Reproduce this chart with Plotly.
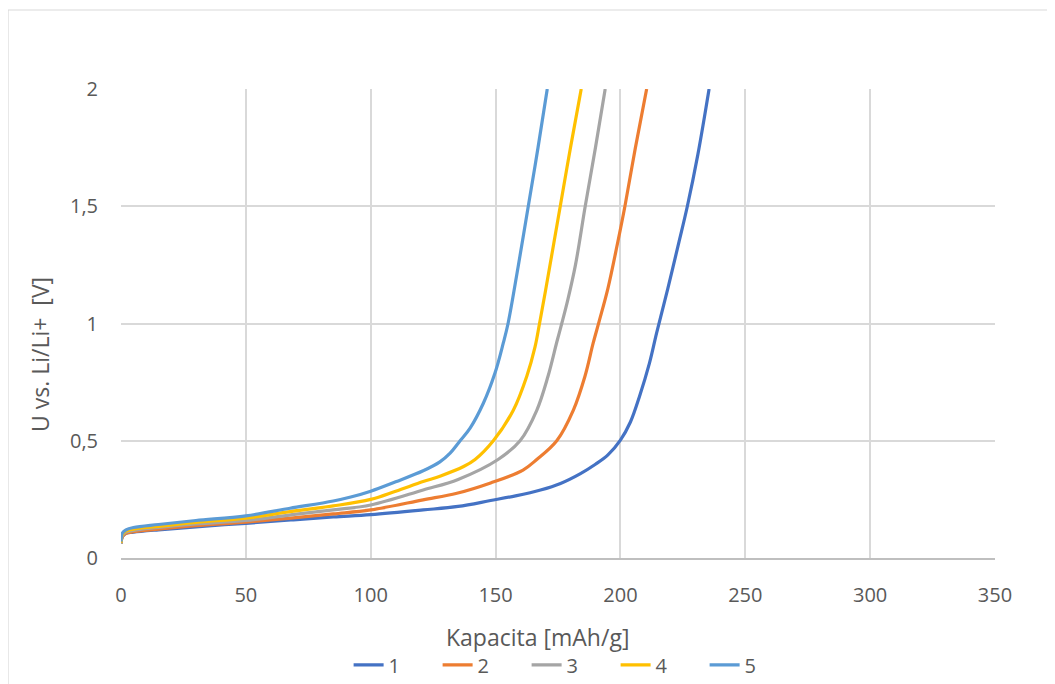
import plotly.graph_objects as go

# Capacity [mAh/g] and voltage [V] per cycle
cap_1 = [0, 0.5, 2, 5, 15, 30, 50, 68, 85, 100, 121, 135, 148, 158, 168, 176, 184, 190, 195, 200, 204, 207.6, 211.6, 214.5, 219, 223.5, 226.8, 231, 235.5]
u_1 = [0.06, 0.09, 0.105, 0.11, 0.12, 0.133, 0.148, 0.162, 0.175, 0.185, 0.205, 0.22, 0.245, 0.265, 0.29, 0.318, 0.36, 0.40, 0.44, 0.503, 0.58, 0.688, 0.83, 0.96, 1.15, 1.35, 1.5, 1.72, 2.0]

cap_2 = [0, 0.5, 2, 5, 15, 30, 50, 68, 85, 100, 121, 134.5, 148, 161, 166.5, 174.5, 181.2, 185.8, 189.1, 191.5, 195, 198.8, 201.8, 206, 210.5]
u_2 = [0.06, 0.09, 0.105, 0.112, 0.123, 0.138, 0.153, 0.17, 0.188, 0.205, 0.248, 0.276, 0.32, 0.375, 0.42, 0.5, 0.632, 0.775, 0.917, 1.01, 1.15, 1.34, 1.5, 1.75, 2.0]

cap_3 = [0, 0.5, 2, 5, 15, 30, 50, 68, 85, 100, 121, 135, 151, 159.8, 166.5, 171, 174.5, 176.5, 178.9, 182, 185.9, 190, 193.9]
u_3 = [0.06, 0.095, 0.11, 0.118, 0.13, 0.145, 0.16, 0.184, 0.205, 0.226, 0.29, 0.335, 0.42, 0.5, 0.63, 0.775, 0.92, 1.0, 1.1, 1.25, 1.5, 1.75, 2.0]

cap_4 = [0, 0.5, 2, 5, 15, 30, 50, 67.7, 85, 100, 110, 121, 128, 137.2, 141.8, 149.1, 157.1, 162.5, 165.8, 167.6, 170, 175.9, 180, 184.3]
u_4 = [0.065, 0.10, 0.115, 0.123, 0.135, 0.152, 0.17, 0.198, 0.222, 0.25, 0.285, 0.326, 0.35, 0.39, 0.42, 0.5, 0.63, 0.775, 0.9, 1.0, 1.14, 1.5, 1.75, 2.0]

cap_5 = [0, 0.5, 2, 5, 15, 30, 50, 67.7, 85, 92, 100, 110, 121, 127.7, 131.8, 135.8, 139.8, 145.1, 149.8, 153.1, 155, 159, 163.1, 167, 170.7]
u_5 = [0.07, 0.105, 0.12, 0.13, 0.143, 0.16, 0.18, 0.212, 0.243, 0.26, 0.285, 0.325, 0.372, 0.41, 0.447, 0.5, 0.554, 0.66, 0.79, 0.917, 1.0, 1.24, 1.5, 1.75, 2.0]

series_names = ["1", "2", "3", "4", "5"]
series_colors = ["#4472C4", "#ED7D31", "#A5A5A5", "#FFC000", "#5B9BD5"]

x_ticks = [0, 50, 100, 150, 200, 250, 300, 350]
y_ticks = [0, 0.5, 1, 1.5, 2]
y_tick_text = ["0", "0,5", "1", "1,5", "2"]

x_title = "Kapacita [mAh/g]"
y_title = "U vs. Li/Li+\u00a0\u00a0[V]"

FONT = "Open Sans"
TXT = "#595959"

# page body adds an 8px offset; plot area in page coords: x 121..995, y 89..558
L, T, PW, PH = 113, 81, 874, 469

fig = go.Figure()
for name, color, xs, ys in zip(series_names, series_colors,
                               [cap_1, cap_2, cap_3, cap_4, cap_5],
                               [u_1, u_2, u_3, u_4, u_5]):
    fig.add_trace(go.Scatter(x=xs, y=ys, mode="lines", name=name,
                             line=dict(color=color, width=3.2, shape="spline", smoothing=1.0)))

fig.update_layout(
    width=1055, height=684,
    margin=dict(l=L, r=1055 - L - PW, t=T, b=684 - T - PH, autoexpand=False),
    paper_bgcolor="white", plot_bgcolor="white",
    font=dict(family=FONT, color=TXT, size=20),
    showlegend=True,
    legend=dict(orientation="h", x=0.515, xanchor="center", y=-0.228, yanchor="middle",
                font=dict(size=20, color=TXT), entrywidth=44, entrywidthmode="pixels",
                tracegroupgap=0, bgcolor="rgba(0,0,0,0)"),
    xaxis=dict(range=[0, 350], tickvals=x_ticks, showgrid=True, gridcolor="#D9D9D9", gridwidth=1.5,
               showline=True, linecolor="#BFBFBF", linewidth=1.5, zeroline=False, ticks="",
               ticklabelstandoff=18, automargin=False),
    yaxis=dict(range=[0, 2], tickvals=y_ticks, ticktext=y_tick_text, showgrid=True,
               gridcolor="#D9D9D9", gridwidth=1.5, zeroline=False, showline=False, ticks="",
               ticklabelstandoff=22, automargin=False),
    annotations=[
        dict(text=x_title, xref="paper", yref="paper", x=(529 - L) / PW, y=(T + PH - 629) / PH,
             xanchor="center", yanchor="middle", showarrow=False, font=dict(size=23, color=TXT)),
        dict(text=y_title, xref="paper", yref="paper", x=(32 - L) / PW, y=(T + PH - 347) / PH,
             xanchor="center", yanchor="middle", textangle=-90, showarrow=False,
             font=dict(size=23, color=TXT)),
    ],
)

fig.add_shape(type="rect", xref="paper", yref="paper",
              x0=(0 - L) / PW, x1=(1070 - L) / PW,
              y0=(T + PH - 700) / PH, y1=(T + PH - 2) / PH,
              line=dict(color="#D9D9D9", width=1.2), layer="below")

fig.write_html("out.html")
